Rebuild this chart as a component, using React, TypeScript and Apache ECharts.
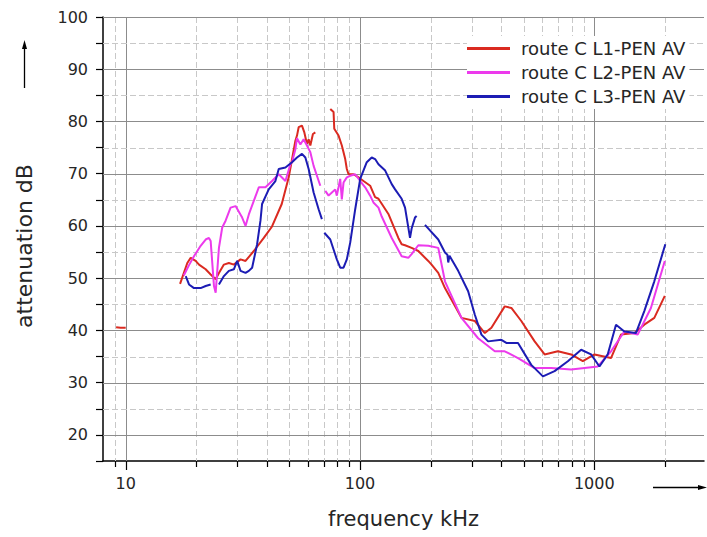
import React, { useEffect, useRef } from 'react';
import * as echarts from 'echarts';

const SERIES_NAMES = ['route C L1-PEN AV', 'route C L2-PEN AV', 'route C L3-PEN AV'];
const SERIES_COLORS = ['#da2a20', '#ec3aec', '#1c1cb4'];

const GAP = '-';

// route C L1-PEN AV  [frequency kHz, attenuation dB]
const L1: any[] = [
  [9.1, 40.6], [9.5, 40.5], [10, 40.5], [11, GAP],
  [17.06, 48.9], [18.32, 52.9], [18.94, 53.9], [19.89, 53.3], [20.55, 52.6], [21.94, 51.7],
  [23.05, 50.7], [24.21, 49.8], [25.0, 51.0], [26.25, 52.6], [27.56, 52.9], [28.95, 52.6],
  [30.92, 53.6], [32.47, 53.3], [35.23, 55.2], [38.85, 57.7], [42.13, 59.9], [46.35, 64.2],
  [49.64, 69.3], [53.0, 76.3], [53.84, 77.3], [54.74, 78.9], [56.53, 79.2], [57.88, 77.9],
  [59.37, 75.7], [60.38, 76.6], [61.39, 75.4], [62.97, 77.6], [64.47, 77.9], [70, GAP],
  [74.68, 82.4], [77.13, 81.8], [77.66, 78.6], [80.99, 77.3], [83.66, 75.4], [86.49, 72.8],
  [87.86, 70.9], [89.35, 69.9], [93.83, 69.9], [98.54, 69.3], [103.5, 68.6], [110.5, 67.7],
  [116.0, 65.5], [119.9, 65.2], [132.2, 62.3], [145.8, 57.7], [150.6, 56.5], [155.7, 56.3],
  [166.1, 55.8], [177.4, 55.2], [195.6, 53.3], [202.1, 52.6], [215.8, 51.0], [230.5, 48.1],
  [271.2, 42.4], [309.2, 41.8], [341.1, 39.5], [363.9, 40.5], [414.8, 44.6], [442.6, 44.3],
  [488.1, 41.8], [556.5, 37.9], [613.8, 35.4], [699.3, 36.0], [796.8, 35.4], [893.6, 34.1],
  [1002, 35.4], [1179, 34.7], [1300, 39.2], [1483, 39.5], [1635, 41.1], [1804, 42.4],
  [2000, 46.6],
];

// route C L2-PEN AV
const L2: any[] = [
  [17.7, 50.5], [18.63, 52.5], [19.56, 54.2], [20.89, 56.2], [21.94, 57.4], [22.66, 57.7],
  [23.05, 57.1], [23.81, 48.5], [24.21, 47.2], [25.0, 55.8], [25.82, 59.7], [26.69, 61.0],
  [28.03, 63.5], [29.44, 63.8], [31.41, 61.6], [32.47, 60.0], [33.54, 62.2], [36.99, 67.4],
  [39.5, 67.4], [42.13, 68.6], [45.0, 69.9], [48.06, 68.6], [50.47, 71.8], [51.27, 72.2],
  [53.0, 74.7], [53.84, 76.8], [55.66, 75.6], [57.48, 76.6], [59.37, 75.4], [61.39, 74.1],
  [63.4, 71.5], [65.49, 69.6], [67.7, 67.7], [69, GAP],
  [71.1, 66.7], [73.45, 65.8], [75.86, 66.4], [78.43, 67.0], [79.65, 65.8], [82.34, 69.0],
  [83.66, 65.1], [85.06, 68.3], [87.86, 69.3], [90.84, 69.6], [95.41, 69.9], [100.2, 68.6],
  [105.2, 67.4], [110.5, 65.8], [114.1, 64.5], [119.9, 63.5], [123.8, 61.8], [136.6, 57.7],
  [150.6, 54.2], [160.8, 53.9], [166.1, 54.6], [177.4, 56.3], [195.6, 56.2], [215.8, 55.8],
  [230.5, 49.4], [271.2, 42.4], [319.3, 38.5], [376.2, 36.0], [414.8, 36.0], [472.6, 34.7],
  [556.5, 32.8], [655, 32.8], [796.8, 32.5], [908.5, 32.8], [1035, 33.1], [1179, 36.0],
  [1344, 39.8], [1532, 39.2], [1745, 44.3], [2000, 53.3],
];

// route C L3-PEN AV
const L3: any[] = [
  [18.04, 50.4], [18.63, 48.8], [19.56, 48.1], [20.89, 48.1], [21.94, 48.5], [23.05, 48.8], [24, GAP],
  [25.0, 48.8], [26.25, 50.4], [27.56, 51.4], [28.95, 51.7], [29.91, 53.3], [30.92, 51.4],
  [32.47, 51.0], [33.54, 51.4], [34.64, 52.0], [36.38, 56.5], [37.6, 61.0], [38.2, 64.2],
  [40.78, 67.0], [43.55, 68.6], [45.0, 70.9], [48.06, 71.2], [51.27, 72.2], [53.84, 73.1],
  [56.53, 73.8], [58.45, 73.1], [60.38, 70.9], [63.4, 66.4], [66.59, 63.2], [68.77, 61.3], [69.5, GAP],
  [70.41, 58.7], [74.68, 57.4], [77.13, 55.5], [79.65, 53.6], [82.34, 52.0], [85.06, 52.0],
  [87.86, 53.6], [90.84, 56.8], [95.41, 63.2], [100.2, 69.0], [106.9, 72.2], [112.2, 73.1],
  [116.0, 72.8], [119.9, 71.8], [128.1, 70.6], [136.6, 68.0], [141.2, 67.0], [150.6, 65.2],
  [155.7, 63.5], [163.5, 57.7], [166.1, 59.5], [171.7, 61.6], [174.5, 61.9], [180, GAP],
  [189.4, 60.2], [215.8, 57.4], [230.5, 54.9], [236.0, 54.5], [238.1, 53.0], [241.0, 54.3],
  [262.5, 51.4], [289.5, 47.5], [309.2, 43.0], [329.9, 39.2], [352.3, 37.9], [401.2, 38.2],
  [421.4, 37.6], [472.6, 37.6], [538.3, 33.4], [603.8, 31.2], [677, 32.2], [771.3, 34.1],
  [878.8, 36.3], [969.2, 35.4], [1052, 33.1], [1141, 35.4], [1238, 41.1], [1344, 39.8],
  [1506, 39.5], [1635, 43.7], [1804, 49.4], [2010, 56.5],
];

const X_MIN = 8;
const X_MAX = 2940;
const Y_MIN = 15;
const Y_MAX = 100;
const X_LABELS = [10, 100, 1000];
const X_GRID_MAJOR = [10, 100, 1000];
const X_GRID_MINOR = [9, 20, 30, 40, 50, 60, 70, 80, 90, 200, 300, 400, 500, 600, 700, 800, 900, 2000];
const Y_GRID_MAJOR = [20, 30, 40, 50, 60, 70, 80, 90, 100];
const Y_GRID_MINOR = [25, 35, 45, 55, 65, 75, 85, 95];

const FONT = 'DejaVu Sans';
const TEXT_COLOR = '#262626';

export default function App() {
  const ref = useRef<HTMLDivElement>(null);
  useEffect(() => {
    if (!ref.current) return;
    const chart = echarts.init(ref.current, undefined, { renderer: 'svg' });

    const vData = [
      ...X_GRID_MINOR.map((v) => [v, Y_MIN, 0]),
      ...X_GRID_MAJOR.map((v) => [v, Y_MIN, 1]),
    ];
    const hData = [
      ...Y_GRID_MINOR.map((v) => [X_MIN, v, 0]),
      ...Y_GRID_MAJOR.map((v) => [X_MIN, v, 1]),
    ];

    const lineSeries = [L1, L2, L3].map((d, i) => ({
      name: SERIES_NAMES[i],
      type: 'line',
      data: d,
      showSymbol: false,
      symbol: 'none',
      connectNulls: false,
      color: SERIES_COLORS[i],
      lineStyle: { width: 2, color: SERIES_COLORS[i] },
      z: 5,
      silent: true,
    }));

    chart.setOption({
      animation: false,
      backgroundColor: '#ffffff',
      grid: { left: 103, right: 0, top: 17, bottom: 76, containLabel: false },
      legend: {
        orient: 'vertical',
        left: 467,
        top: 36,
        itemWidth: 43,
        itemHeight: 3,
        itemGap: 3,
        icon: 'rect',
        data: SERIES_NAMES,
        textStyle: {
          fontFamily: FONT,
          fontSize: 18,
          color: TEXT_COLOR,
          lineHeight: 21,
          padding: [0, 0, 0, 6],
        },
        backgroundColor: '#ffffff',
        padding: [2, 4, 2, 0],
      },
      xAxis: {
        type: 'log',
        logBase: 10,
        min: X_MIN,
        max: X_MAX,
        name: 'frequency kHz',
        nameLocation: 'middle',
        nameGap: 47,
        nameTextStyle: { fontFamily: FONT, fontSize: 21, color: TEXT_COLOR },
        axisLine: { show: true, lineStyle: { color: '#000', width: 1.5 } },
        axisTick: { show: false },
        splitLine: { show: false },
        axisLabel: {
          fontFamily: FONT,
          fontSize: 16,
          color: TEXT_COLOR,
          margin: 14,
          formatter: (v: number) => {
            const r = Math.round(v);
            return X_LABELS.includes(r) && Math.abs(v - r) < 0.01 ? String(r) : '';
          },
        },
      },
      yAxis: {
        type: 'value',
        min: Y_MIN,
        max: Y_MAX,
        interval: 5,
        name: 'attenuation dB',
        nameLocation: 'middle',
        nameGap: 68,
        nameTextStyle: { fontFamily: FONT, fontSize: 22, color: TEXT_COLOR, padding: [0, 14, 0, 0] },
        axisLine: { show: true, lineStyle: { color: '#000', width: 1.5 } },
        axisTick: { show: true, length: 7, lineStyle: { color: '#000', width: 1.2 } },
        splitLine: { show: false },
        axisLabel: {
          fontFamily: FONT,
          fontSize: 16,
          color: TEXT_COLOR,
          margin: 15,
          formatter: (v: number) => (v % 10 === 0 ? String(v) : ''),
        },
      },
      series: [
        {
          type: 'custom',
          name: 'vgrid',
          data: vData,
          encode: { x: 0, y: 1 },
          clip: false,
          silent: true,
          z: 1,
          renderItem: (params: any, api: any) => {
            const v = api.value(0);
            const major = api.value(2) === 1;
            const top = api.coord([v, Y_MAX]);
            const bot = api.coord([v, Y_MIN]);
            const x = Math.round(top[0]) + 0.5;
            const gridStyle: any = major
              ? { stroke: '#8c8c8c', lineWidth: 1 }
              : { stroke: '#c8c8c8', lineWidth: 1, lineDash: [6, 3] };
            return {
              type: 'group',
              children: [
                { type: 'line', shape: { x1: x, y1: top[1], x2: x, y2: bot[1] }, style: gridStyle },
                {
                  type: 'line',
                  shape: { x1: x, y1: bot[1], x2: x, y2: bot[1] + (major ? 9 : 6) },
                  style: { stroke: '#000', lineWidth: 1.2 },
                },
              ],
            };
          },
        },
        {
          type: 'custom',
          name: 'hgrid',
          data: hData,
          encode: { x: 0, y: 1 },
          clip: false,
          silent: true,
          z: 1,
          renderItem: (params: any, api: any) => {
            const v = api.value(1);
            const major = api.value(2) === 1;
            const l = api.coord([X_MIN, v]);
            const r = api.coord([X_MAX, v]);
            const y = Math.round(l[1]) + 0.5;
            const gridStyle: any = major
              ? { stroke: '#8c8c8c', lineWidth: 1 }
              : { stroke: '#c8c8c8', lineWidth: 1, lineDash: [6, 3] };
            return { type: 'line', shape: { x1: l[0], y1: y, x2: r[0], y2: y }, style: gridStyle };
          },
        },
        ...lineSeries,
      ],
      graphic: [
        {
          type: 'group',
          silent: true,
          children: [
            { type: 'line', shape: { x1: 24.5, y1: 88, x2: 24.5, y2: 47 }, style: { stroke: '#000', lineWidth: 1.3 } },
            { type: 'polygon', shape: { points: [[24.5, 40], [22, 49], [27, 49]] }, style: { fill: '#000' } },
            { type: 'line', shape: { x1: 653, y1: 487.5, x2: 699, y2: 487.5 }, style: { stroke: '#000', lineWidth: 1.3 } },
            { type: 'polygon', shape: { points: [[707, 487.5], [698, 485], [698, 490]] }, style: { fill: '#000' } },
          ],
        },
      ],
    });
    return () => chart.dispose();
  }, []);
  return (
    <div
      ref={ref}
      style={{ position: 'fixed', left: 0, top: 0, width: 707, height: 537, background: '#fff' }}
    />
  );
}
